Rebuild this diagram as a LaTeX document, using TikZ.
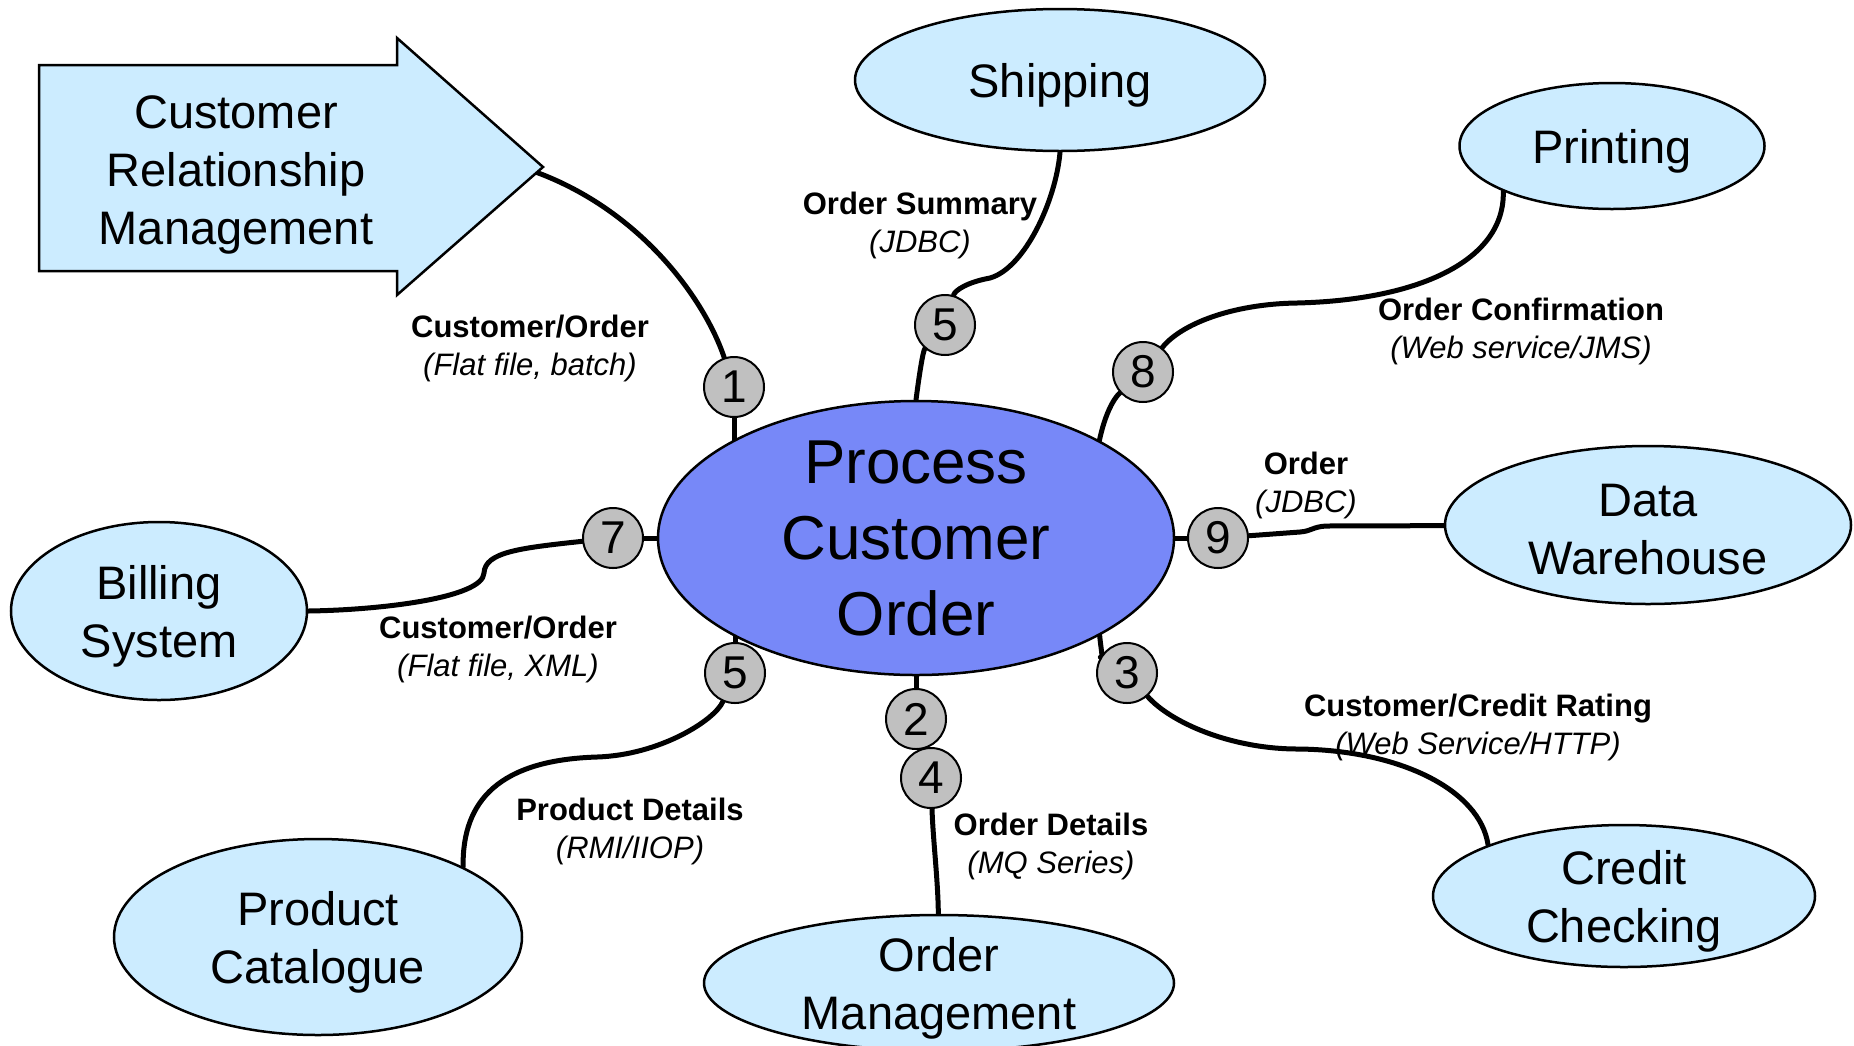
\documentclass[tikz,border=0pt]{standalone}
\usepackage{fontspec}
\setmainfont{Liberation Sans}
\usetikzlibrary{shapes.geometric,calc}
\pgfdeclarelayer{background}
\pgfsetlayers{background,main}
\definecolor{appfill}{RGB}{204,236,255}
\definecolor{corefill}{RGB}{119,136,248}
\definecolor{stepfill}{RGB}{192,192,192}

\begin{document}
\begin{tikzpicture}[x=1pt,y=-1pt,
  app/.style={ellipse, draw=black, line width=2.5pt, fill=appfill, inner sep=0pt},
  apptext/.style={align=center, inner sep=0pt, yshift=-5pt, font=\fontsize{47}{58}\selectfont},
  core/.style={ellipse, draw=black, line width=2.5pt, fill=corefill, inner sep=0pt},
  coretext/.style={align=center, inner sep=0pt, font=\fontsize{62}{76}\selectfont},
  stepnum/.style={circle, draw=black, line width=2pt, fill=stepfill, minimum size=60pt, inner sep=0pt, font=\fontsize{46}{46}\selectfont},
  flow/.style={line width=5pt, line cap=round, line join=round},
  lbl/.style={align=center, inner sep=0pt, yshift=-2pt, font=\fontsize{31}{38}\selectfont},
]
\useasboundingbox (0,0) rectangle (1854,1045);
\clip (0,0) rectangle (1854,1045);

% central process
\node[core, minimum width=516pt, minimum height=274pt] (pco) at (916,538) {};
\node[coretext] (pco-t) at (pco) {Process\\Customer\\Order};

% surrounding systems
\draw[line width=2.5pt, fill=appfill, line join=miter]
  (39,65) -- (397,65) -- (397,38) -- (543,167) -- (397,295) -- (397,271) -- (39,271) -- cycle;
\coordinate (crm-tip) at (530,170);
\node[apptext] (crm) at (236,170) {Customer\\Relationship\\Management};

\node[app, minimum width=410pt, minimum height=142pt] (ship) at (1060,80) {};
\node[apptext] (ship-t) at (ship) {Shipping};
\node[app, minimum width=305pt, minimum height=126pt] (print) at (1612,146) {};
\node[apptext] (print-t) at (print) {Printing};
\node[app, minimum width=406pt, minimum height=158pt] (dw) at (1648,525) {};
\node[apptext] (dw-t) at (dw) {Data\\Warehouse};
\node[app, minimum width=382pt, minimum height=142pt] (credit) at (1624,896) {};
\node[apptext] (credit-t) at (credit) {Credit\\Checking};
\node[app, minimum width=470pt, minimum height=136pt] (ordm) at (939,983) {};
\node[apptext] (ordm-t) at (ordm) {Order\\Management};
\node[app, minimum width=408pt, minimum height=196pt] (prod) at (318,937) {};
\node[apptext] (prod-t) at (prod) {Product\\Catalogue};
\node[app, minimum width=296pt, minimum height=178pt] (bill) at (159,611) {};
\node[apptext] (bill-t) at (bill) {Billing\\System};

% numbered interaction steps
\node[stepnum] (n1) at (734,387) {1};
\node[stepnum] (n5a) at (945,325) {5};
\node[stepnum] (n8) at (1143,372) {8};
\node[stepnum] (n9) at (1218,538) {9};
\node[stepnum] (n3) at (1127,673) {3};
\node[stepnum] (n2) at (916,719) {2};
\node[stepnum] (n4) at (931,778) {4};
\node[stepnum] (n5b) at (735,673) {5};
\node[stepnum] (n7) at (613,538) {7};

% interface labels
\node[lbl] (l1) at (530,346) {\textbf{Customer/Order}\\\textit{(Flat file, batch)}};
\node[lbl] (l5a) at (920,223) {\textbf{Order Summary}\\\textit{(JDBC)}};
\node[lbl] (l8) at (1521,329) {\textbf{Order Confirmation}\\\textit{(Web service/JMS)}};
\node[lbl] (l9) at (1306,483) {\textbf{Order}\\\textit{(JDBC)}};
\node[lbl] (l7) at (498,647) {\textbf{Customer/Order}\\\textit{(Flat file, XML)}};
\node[lbl] (l5b) at (630,829) {\textbf{Product Details}\\\textit{(RMI/IIOP)}};
\node[lbl] (l4) at (1051,844) {\textbf{Order Details}\\\textit{(MQ Series)}};
\node[lbl] (l3) at (1478,725) {\textbf{Customer/Credit Rating}\\\textit{(Web Service/HTTP)}};

% connectors, kept beneath the shapes
\begin{pgfonlayer}{background}
\fill[white] (0,0) rectangle (1854,1045);
\draw[flow] (crm-tip) .. controls (640,208) and (705,300) .. (n1);
\draw[flow] (n1) -- (n1 |- pco);
\draw[flow] (ship.south) .. controls (1056,200) and (1025,268) .. (990,278)
  .. controls (968,282) and (955,290) .. (n5a);
\draw[flow] (n5a) .. controls (922,352) and (916,400) .. (pco);
\draw[flow] (n8) .. controls (1180,325) and (1230,304) .. (1297,303)
  .. controls (1420,300) and (1505,260) .. (print.south west);
\draw[flow] (n8) .. controls (1112,400) and (1098,425) .. ($(pco)+(178,-58)$);
\draw[flow] (n9) -- (n9 -| pco);
\draw[flow] (n9) -- (1300,532) .. controls (1312,531) and (1312,527) .. (1326,526) -- (dw);
\draw[flow] (n3) .. controls (1105,660) and (1098,645) .. ($(pco)+(182,62)$);
\draw[flow] (n3) .. controls (1170,722) and (1230,749) .. (1298,749)
  .. controls (1400,750) and (1480,790) .. (credit.north west);
\draw[flow] (n2) -- (n2 |- pco);
\draw[flow] (n2) -- (n4);
\draw[flow] (n4) .. controls (933,840) and (938,880) .. (ordm);
\draw[flow] (n5b) -- (n5b |- pco);
\draw[flow] (n5b) .. controls (715,720) and (660,755) .. (597,757)
  .. controls (500,760) and (462,800) .. (prod.north east);
\draw[flow] (n7) -- (n7 -| pco);
\draw[flow] (n7) .. controls (520,548) and (485,552) .. (484,573)
  .. controls (483,598) and (380,610) .. (bill.east);
\end{pgfonlayer}
\end{tikzpicture}
\end{document}
